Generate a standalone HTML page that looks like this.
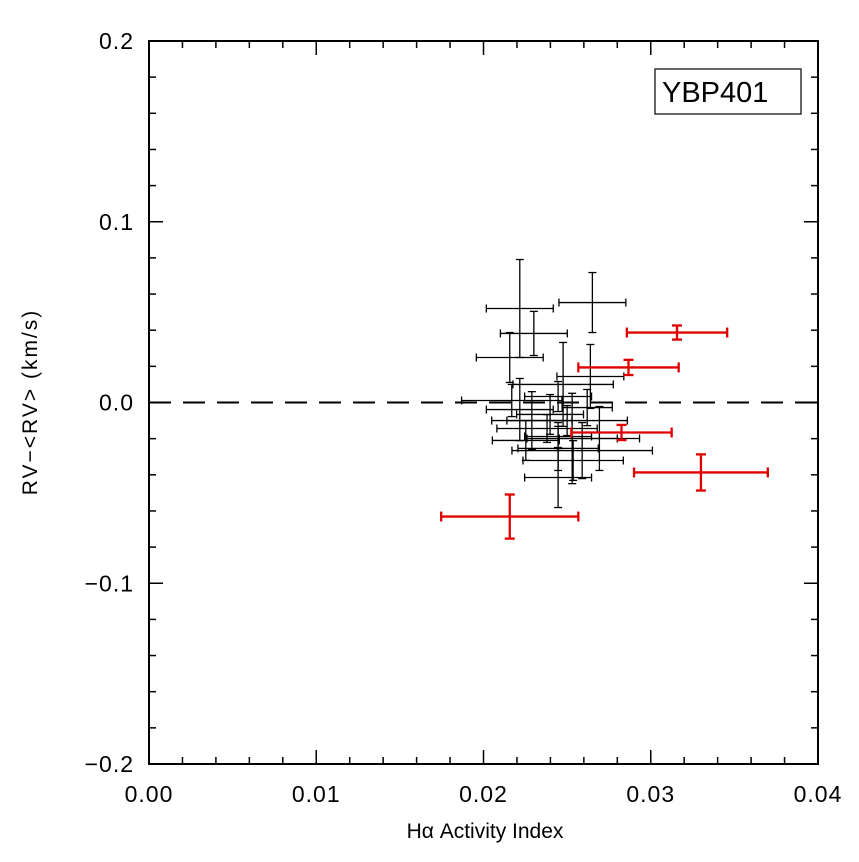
<!DOCTYPE html>
<html><head><meta charset="utf-8"><style>
body{margin:0;background:#fff;}
svg text{font-family:"Liberation Sans",sans-serif;fill:#000;}
</style></head><body>
<svg id="chart" width="859" height="857" viewBox="0 0 859 857"></svg>
<script>
const blackX=[.02217,.02651,.02301,.02157,.02639,.02476,.02446,.02169,.02217,.02289,.02398,.02620,.02380,.02446,.02693,.02530,.02446,.02590,.02536,.02446,.02500,.02253];
const blackY=[.0520,.0553,.0382,.0249,.0144,.0100,.0033,.0011,-.0039,-.0100,-.0066,-.0028,-.0144,-.0188,-.0199,-.0199,-.0254,-.0266,-.0321,-.0415,-.0100,-.0210];
const blackXe=[.0020,.0020,.0020,.0020,.0020,.0030,.0020,.0030,.0020,.0024,.0020,.0015,.0030,.0020,.0024,.0027,.0024,.0042,.0030,.0020,.0036,.0020];
const blackYe=[.0271,.0166,.0122,.0138,.0177,.0232,.0083,.0089,.0172,.0160,.0110,.0100,.0077,.0077,.0177,.0250,.0122,.0155,.0110,.0166,.0083,.0110];
const redX=[.03157,.02867,.02825,.0330,.02157];
const redY=[.0387,.0194,-.0166,-.0387,-.0631];
const redXe=[.0030,.0030,.0030,.0040,.0041];
const redYe=[.0039,.0042,.0042,.0100,.0122];
const xTicks=["0.00","0.01","0.02","0.03","0.04"];
const yTicks=["0.2","0.1","0.0","\u22120.1","\u22120.2"];
const L=149,R=818,T=41,B=764;
const sx=v=>L+(v-0)/0.04*(R-L);
const sy=v=>B-(v+0.2)/0.4*(B-T);
const svg=document.getElementById('chart');
const NS='http://www.w3.org/2000/svg';
function mk(tag,at,parent){const e=document.createElementNS(NS,tag);for(const k in at)e.setAttribute(k,at[k]);(parent||svg).appendChild(e);return e;}
function line(x1,y1,x2,y2,c,w,p){return mk('line',{x1,y1,x2,y2,stroke:c,'stroke-width':w},p);}
const fr=mk('rect',{x:L,y:T,width:R-L,height:B-T,fill:'none',stroke:'#000','stroke-width':2});


for(let i=0;i<=20;i++){
  const v=i*0.002,x=sx(v),len=(i%5==0)?14:7;
  line(x,B,x,B-len,'#000',1.5);line(x,T,x,T+len,'#000',1.5);
}
for(let i=0;i<=20;i++){
  const v=-0.2+i*0.02,y=sy(v),len=(i%5==0)?14:7;
  line(L,y,L+len,y,'#000',1.5);line(R,y,R-len,y,'#000',1.5);
}
xTicks.forEach((t,i)=>{const e=mk('text',{x:sx(i*0.01),y:B+38,'font-size':23,'text-anchor':'middle','letter-spacing':1});e.textContent=t;

});
yTicks.forEach((t,i)=>{const e=mk('text',{x:L-15,y:sy(0.2-i*0.1)+8,'font-size':23,'text-anchor':'end','letter-spacing':1});e.textContent=t;

});
const zl=line(L,sy(0),R,sy(0),'#000',2);zl.setAttribute('stroke-dasharray','22 12');


const xt=mk('text',{x:485,y:838,'font-size':21,'text-anchor':'middle'});xt.textContent='H\u03b1 Activity Index';


const yt=mk('text',{x:0,y:0,'font-size':21,'text-anchor':'middle','letter-spacing':2,transform:'translate(37,402) rotate(-90)'});yt.textContent='RV\u2212<RV> (km/s)';


const lg=mk('g',{});


mk('rect',{x:655,y:69,width:146,height:45,fill:'#fff',stroke:'#000','stroke-width':1.2},lg);
const lt=mk('text',{x:662,y:102,'font-size':29},lg);lt.textContent='YBP401';
function eb(x,y,xe,ye,c,w,cap,name){
  const g=mk('g',{});
  
  
  const x0=sx(x-xe),x1=sx(x+xe),y0=sy(y-ye),y1=sy(y+ye),cx=sx(x),cy=sy(y);
  line(x0,cy,x1,cy,c,w,g);line(cx,y0,cx,y1,c,w,g);
  line(x0,cy-cap,x0,cy+cap,c,w,g);line(x1,cy-cap,x1,cy+cap,c,w,g);
  line(cx-cap,y0,cx+cap,y0,c,w,g);line(cx-cap,y1,cx+cap,y1,c,w,g);
}
blackX.forEach((v,i)=>eb(v,blackY[i],blackXe[i],blackYe[i],'#000',1.3,4,'black-point'));
redX.forEach((v,i)=>eb(v,redY[i],redXe[i],redYe[i],'#e00000',2.3,5,'red-point'));
</script>
</body></html>
